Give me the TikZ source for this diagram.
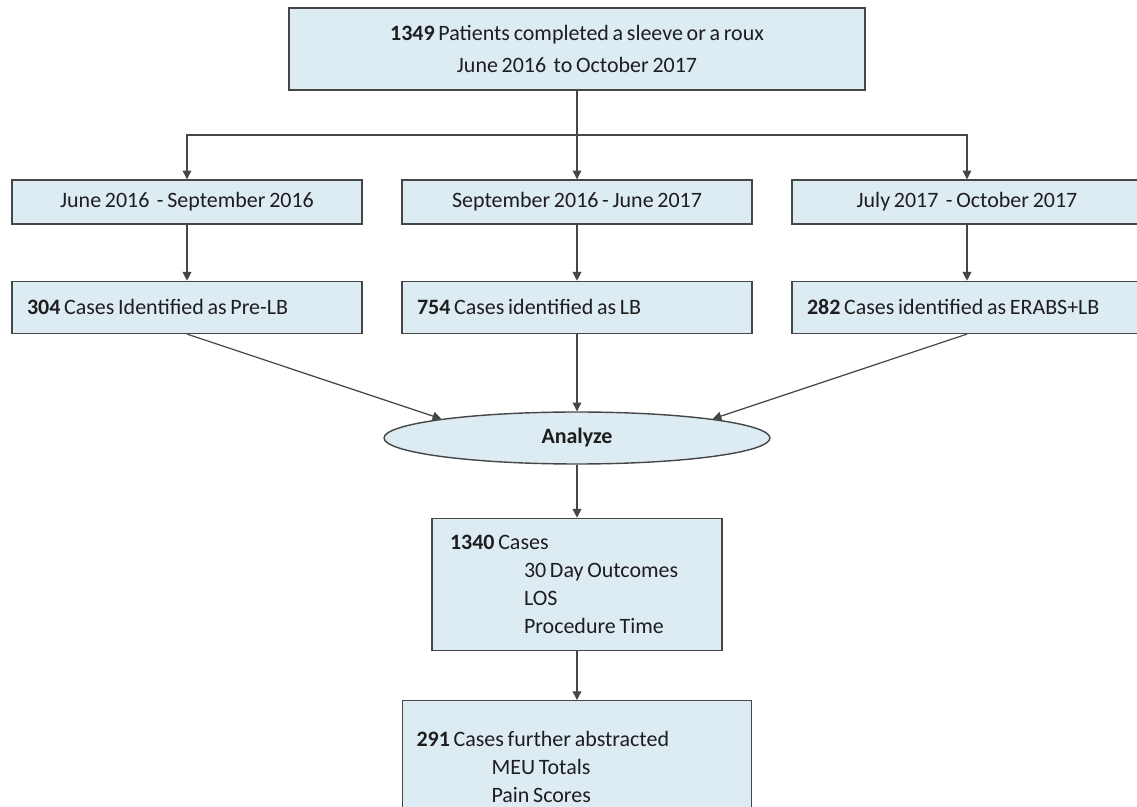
\documentclass[tikz,border=0pt]{standalone}
\usepackage{fontspec}
\setmainfont{Carlito}[WordSpace=0.75]
\usetikzlibrary{shapes.geometric, arrows.meta, positioning}
\definecolor{boxfill}{RGB}{221,235,243}
\definecolor{boxline}{RGB}{70,70,70}
\definecolor{txt}{RGB}{30,30,30}

\tikzset{
  stepbox/.style={draw=boxline, fill=boxfill, line width=0.8pt, text=txt, minimum width=7cm, minimum height=0.88cm, inner sep=0pt, font=\fontsize{12.5}{15.8}\selectfont},
  casebox/.style={stepbox, minimum height=1.04cm, text width=6.4cm, align=flush left},
  link/.style={draw=boxline, line width=0.7pt, -{Triangle[width=5pt,length=5pt]}},
}

\begin{document}
\begin{tikzpicture}[x=0.02cm, y=-0.02cm]
\useasboundingbox (0,0) rectangle (1137,807);
\clip (0,0) rectangle (1137,807);

% Start
\node[stepbox, minimum width=11.52cm, minimum height=1.64cm, align=center] (total) at (577,49) {\textbf{1349} Patients completed a sleeve or a roux\\[2pt] June 2016 ~to October 2017};
\coordinate (split) at (577,135);

% Periods
\node[stepbox] (early) at (187,202) {June 2016 ~- September 2016};
\node[stepbox] (mid) at (577,202) {September 2016 - June 2017};
\node[stepbox] (late) at (967,202) {July 2017 ~- October 2017};

% Cohorts
\node[casebox, below=1.12cm of early] (prelb) {\textbf{304} Cases Identified as Pre-LB};
\node[casebox, below=1.12cm of mid] (lb) {\textbf{754} Cases identified as LB};
\node[casebox, below=1.12cm of late] (erabs) {\textbf{282} Cases identified as ERABS+LB};

% Analyze
\node[ellipse, draw=boxline, fill=boxfill, line width=0.8pt, minimum width=7.72cm, minimum height=1.04cm, text=txt, font=\bfseries\fontsize{12.5}{15}\selectfont] (analyze) at (577,438) {Analyze};

% Results
\node[stepbox, below=1.06cm of analyze, minimum width=5.8cm, minimum height=2.64cm, text width=5.08cm, align=flush left] (outcomes) {\textbf{1340} Cases\\ \hspace*{1.48cm}30 Day Outcomes\\ \hspace*{1.48cm}LOS\\ \hspace*{1.48cm}Procedure Time};
\node[stepbox, below=0.98cm of outcomes, minimum width=6.98cm, minimum height=2.64cm, text width=6.42cm, align=flush left] (abstracted) {\textbf{291} Cases further abstracted\\ \hspace*{1.5cm}MEU Totals\\ \hspace*{1.5cm}Pain Scores};

% Connectors
\draw[boxline, line width=0.7pt] (total.south) -- (split);
\draw[link] (split) -| (early.north);
\draw[link] (split) -- (mid.north);
\draw[link] (split) -| (late.north);

\draw[link] (early) -- (prelb);
\draw[link] (mid) -- (lb);
\draw[link] (late) -- (erabs);

\draw[link] (prelb.south) -- (analyze.172);
\draw[link] (lb) -- (analyze);
\draw[link] (erabs.south) -- (analyze.8);

\draw[link] (analyze) -- (outcomes);
\draw[link] (outcomes) -- (abstracted);
\end{tikzpicture}
\end{document}
